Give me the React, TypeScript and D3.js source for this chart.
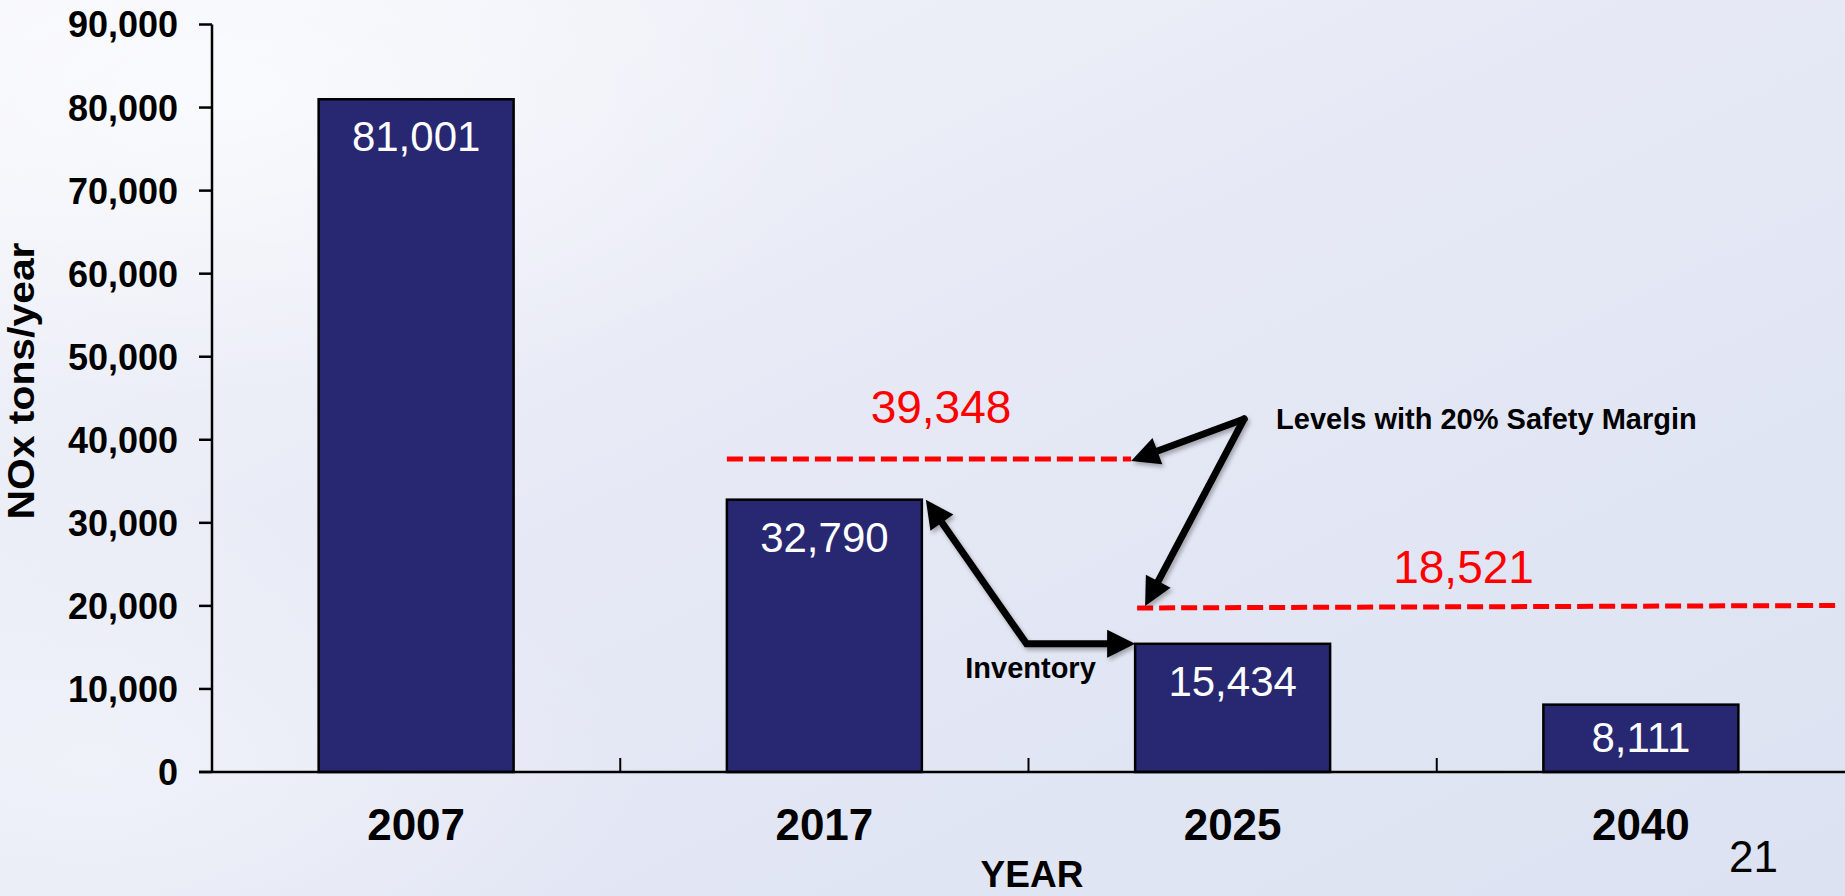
import React from "react";
import * as d3 from "d3";

const years = ["2007", "2017", "2025", "2040"];
const emissions = [81001, 32790, 15434, 8111];
const yTicks = [0, 10000, 20000, 30000, 40000, 50000, 60000, 70000, 80000, 90000];
const marginLabels = ["39,348", "18,521"];
// dashed levels as drawn in the picture (start value, end value)
const marginLineStart = [37700, 19750];
const marginLineEnd = [37700, 20050];
const levelsNote = "Levels with 20% Safety Margin";
const inventoryNote = "Inventory";
const yTitle = "NOx tons/year";
const xTitle = "YEAR";
const pageNumber = "21";

const W = 1845;
const H = 896;
const FONT = "'Liberation Sans', Arial, Helvetica, sans-serif";

function arrowHead(tip: [number, number], from: [number, number], len: number, half: number) {
  const dx = tip[0] - from[0];
  const dy = tip[1] - from[1];
  const d = Math.hypot(dx, dy);
  const ux = dx / d, uy = dy / d;
  const bx = tip[0] - ux * len, by = tip[1] - uy * len;
  const px = -uy, py = ux;
  return `M${tip[0]},${tip[1]} L${bx + px * half},${by + py * half} L${bx - px * half},${by - py * half} Z`;
}
function shortened(tip: [number, number], from: [number, number], len: number): [number, number] {
  const dx = tip[0] - from[0];
  const dy = tip[1] - from[1];
  const d = Math.hypot(dx, dy);
  return [tip[0] - (dx / d) * len * 0.8, tip[1] - (dy / d) * len * 0.8];
}

export default function App() {
  const x = d3.scaleBand<string>().domain(years).range([212, W]).paddingInner(0.5224).paddingOuter(0.2612);
  const y = d3.scaleLinear().domain([0, 90000]).range([772, 24.5]);
  const step = x.step();
  const y0 = y(0);

  const bars = years.map((yr, i) => ({
    yr,
    v: emissions[i],
    x0: x(yr)!,
    x1: x(yr)! + x.bandwidth(),
    top: y(emissions[i]),
  }));

  const b2017 = bars[1];
  const b2025 = bars[2];

  const line1 = { x0: b2017.x0, x1: b2025.x0 - 4, y0: y(marginLineStart[0]), y1: y(marginLineEnd[0]) };
  const line2 = { x0: b2025.x0 + 2, x1: W - 9, y0: y(marginLineStart[1]), y1: y(marginLineEnd[1]) };

  // annotation anchor for "Levels..." text
  const noteX = b2025.x1 - 54;
  const noteBase = y(41300);
  const apex: [number, number] = [noteX - 32, noteBase - 10];
  const tip1: [number, number] = [line1.x1, line1.y0 + 2];
  const tip2: [number, number] = [line2.x0 + 8, line2.y0 - 2];

  // inventory arrow
  const invA: [number, number] = [b2017.x1 + 4, b2017.top];
  const elbow: [number, number] = [x(years[2])! - (step - x.bandwidth()) / 2 - 2, b2025.top];
  const invB: [number, number] = [b2025.x0, b2025.top];

  const headLen = 28;
  const headHalf = 14;

  return (
    <svg width={W} height={H} style={{ position: "absolute", left: 0, top: 0 }} fontFamily={FONT}>
      <defs>
        <linearGradient id="bg" x1="0" y1="0" x2="1" y2="1">
          <stop offset="0" stopColor="#f5f6fb" />
          <stop offset="0.45" stopColor="#e6e9f5" />
          <stop offset="1" stopColor="#dce2f2" />
        </linearGradient>
        <radialGradient id="cloud1" cx="0.12" cy="0.1" r="0.35">
          <stop offset="0" stopColor="#ffffff" stopOpacity="0.6" />
          <stop offset="1" stopColor="#ffffff" stopOpacity="0" />
        </radialGradient>
        <radialGradient id="cloud2" cx="0.05" cy="0.85" r="0.3">
          <stop offset="0" stopColor="#f4f6fb" stopOpacity="0.7" />
          <stop offset="1" stopColor="#f4f6fb" stopOpacity="0" />
        </radialGradient>
        <filter id="shadow" x="-20%" y="-20%" width="140%" height="140%">
          <feDropShadow dx="2" dy="3" stdDeviation="2" floodColor="#000" floodOpacity="0.3" />
        </filter>
      </defs>
      <rect width={W} height={H} fill="url(#bg)" />
      <rect width={W} height={H} fill="url(#cloud1)" />
      <rect width={W} height={H} fill="url(#cloud2)" />

      {/* bars */}
      {bars.map((b) => (
        <g key={b.yr}>
          <rect x={b.x0} y={b.top} width={b.x1 - b.x0} height={y0 - b.top} fill="#282872" stroke="#000" strokeWidth={2.5} />
          <text
            x={(b.x0 + b.x1) / 2}
            y={Math.min(b.top + 52, y0 - 20)}
            textAnchor="middle"
            fill="#fff"
            fontSize={42}
          >
            {d3.format(",")(b.v)}
          </text>
        </g>
      ))}

      {/* y axis */}
      <line x1={212} x2={212} y1={y(90000)} y2={y0} stroke="#000" strokeWidth={2.5} />
      {yTicks.map((t) => (
        <g key={t}>
          <line x1={199} x2={212} y1={y(t)} y2={y(t)} stroke="#000" strokeWidth={2.5} />
          <text x={178} y={y(t)} dy="0.36em" textAnchor="end" fontWeight="bold" fontSize={36}>
            {d3.format(",")(t)}
          </text>
        </g>
      ))}
      {/* x axis */}
      <line x1={199} x2={W} y1={y0} y2={y0} stroke="#000" strokeWidth={2.5} />
      {years.slice(1).map((yr) => {
        const bx = x(yr)! - (step - x.bandwidth()) / 2;
        return <line key={yr} x1={bx} x2={bx} y1={y0} y2={y0 - 14} stroke="#000" strokeWidth={2} />;
      })}
      {years.map((yr) => (
        <text key={yr} x={x(yr)! + x.bandwidth() / 2} y={840} textAnchor="middle" fontWeight="bold" fontSize={44}>
          {yr}
        </text>
      ))}

      <text x={1032} y={887} textAnchor="middle" fontWeight="bold" fontSize={37}>
        {xTitle}
      </text>
      <text
        transform={`translate(34, ${381}) rotate(-90)`}
        textAnchor="middle"
        fontWeight="bold"
        fontSize={36}
        textLength={277}
        lengthAdjust="spacingAndGlyphs"
      >
        {yTitle}
      </text>

      {/* safety margin lines */}
      {[line1, line2].map((l, i) => (
        <line key={i} x1={l.x0} x2={l.x1} y1={l.y0} y2={l.y1} stroke="#ff0000" strokeWidth={5} strokeDasharray="16 6" />
      ))}
      <text x={(line1.x0 + line1.x1) / 2 + 12} y={line1.y0 - 36} textAnchor="middle" fill="#ff0000" fontSize={46}>
        {marginLabels[0]}
      </text>
      <text x={(line2.x0 + line2.x1) / 2 - 23} y={line2.y0 - 25} textAnchor="middle" fill="#ff0000" fontSize={46}>
        {marginLabels[1]}
      </text>

      {/* arrows */}
      <g filter="url(#shadow)">
        <line x1={apex[0]} y1={apex[1]} x2={shortened(tip1, apex, headLen)[0]} y2={shortened(tip1, apex, headLen)[1]} stroke="#000" strokeWidth={7} strokeLinecap="round" />
        <path d={arrowHead(tip1, apex, headLen, headHalf)} fill="#000" />
        <line x1={apex[0]} y1={apex[1]} x2={shortened(tip2, apex, headLen)[0]} y2={shortened(tip2, apex, headLen)[1]} stroke="#000" strokeWidth={7} strokeLinecap="round" />
        <path d={arrowHead(tip2, apex, headLen, headHalf)} fill="#000" />

        <polyline
          points={`${shortened(invA, elbow, headLen).join(",")} ${elbow.join(",")} ${shortened(invB, elbow, headLen).join(",")}`}
          fill="none"
          stroke="#000"
          strokeWidth={7}
          strokeLinejoin="miter"
        />
        <path d={arrowHead(invA, elbow, headLen, headHalf)} fill="#000" />
        <path d={arrowHead(invB, elbow, headLen, headHalf)} fill="#000" />
      </g>

      <text x={noteX} y={noteBase} fontWeight="bold" fontSize={29}>
        {levelsNote}
      </text>
      <text x={elbow[0] + 4} y={678} textAnchor="middle" fontWeight="bold" fontSize={29}>
        {inventoryNote}
      </text>

      <text x={1729} y={872} fontSize={44}>
        {pageNumber}
      </text>
    </svg>
  );
}
